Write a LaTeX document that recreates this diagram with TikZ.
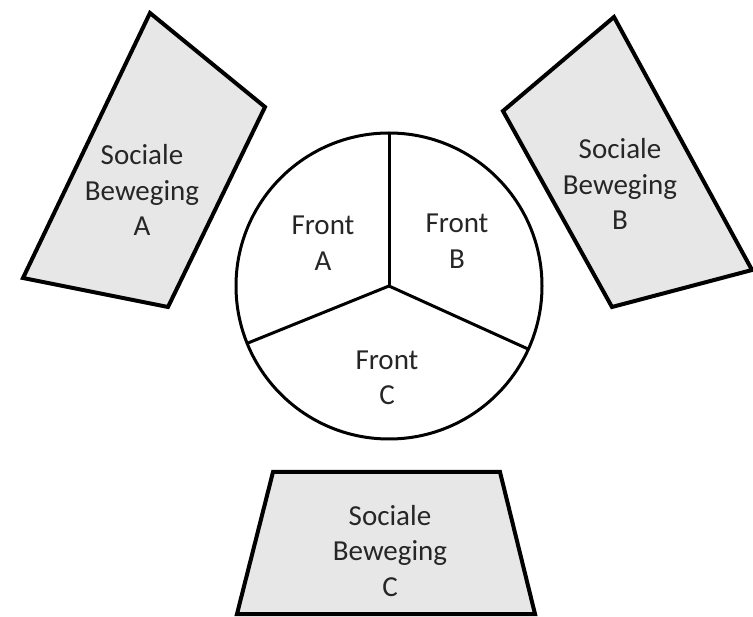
\documentclass[tikz,border=0pt]{standalone}
\usepackage{fontspec}
\setmainfont{Carlito}
\definecolor{boxfill}{HTML}{E7E7E7}
\definecolor{txt}{HTML}{262626}
\tikzset{
  movbox/.style={draw=black, fill=boxfill, line width=4pt, line join=miter},
  lbl/.style={align=center, text=txt, font=\fontsize{29pt}{35.5pt}\selectfont, inner sep=0pt},
  pie/.style={draw=black, line width=3pt}
}
\begin{document}
\begin{tikzpicture}[x=1pt,y=-1pt]
\useasboundingbox (0,0) rectangle (753,617);
% Sociale Beweging A
\coordinate (a1) at (150,13);
\coordinate (a2) at (265,107);
\coordinate (a3) at (168,307);
\coordinate (a4) at (23,278);
\draw[movbox] (a1) -- (a2) -- (a3) -- (a4) -- cycle;
\node[lbl] (ta) at (142,190) {Sociale\\Beweging\\A};
% Sociale Beweging B
\coordinate (b1) at (614,17);
\coordinate (b2) at (752,270);
\coordinate (b3) at (612,307);
\coordinate (b4) at (503,111);
\draw[movbox] (b1) -- (b2) -- (b3) -- (b4) -- cycle;
\node[lbl] (tb) at (620,184) {Sociale\\Beweging\\B};
% Sociale Beweging C
\coordinate (c1) at (273,472);
\coordinate (c2) at (500,472);
\coordinate (c3) at (535,614);
\coordinate (c4) at (237,614);
\draw[movbox] (c1) -- (c2) -- (c3) -- (c4) -- cycle;
\node[lbl] (tc) at (390,551) {Sociale\\Beweging\\C};
% Circle with fronts
\coordinate (hub) at (389,286);
\draw[pie, fill=white] (hub) circle[radius=153];
\draw[pie] (hub) -- ++(0,-153) coordinate (top);
\draw[pie] (hub) -- ++(-141,57) coordinate (left);
\draw[pie] (hub) -- ++(139,63) coordinate (right);
\node[lbl] (fa) at (323,243) {Front\\A};
\node[lbl] (fb) at (457,241) {Front\\B};
\node[lbl] (fc) at (387,378) {Front\\C};
\end{tikzpicture}
\end{document}
